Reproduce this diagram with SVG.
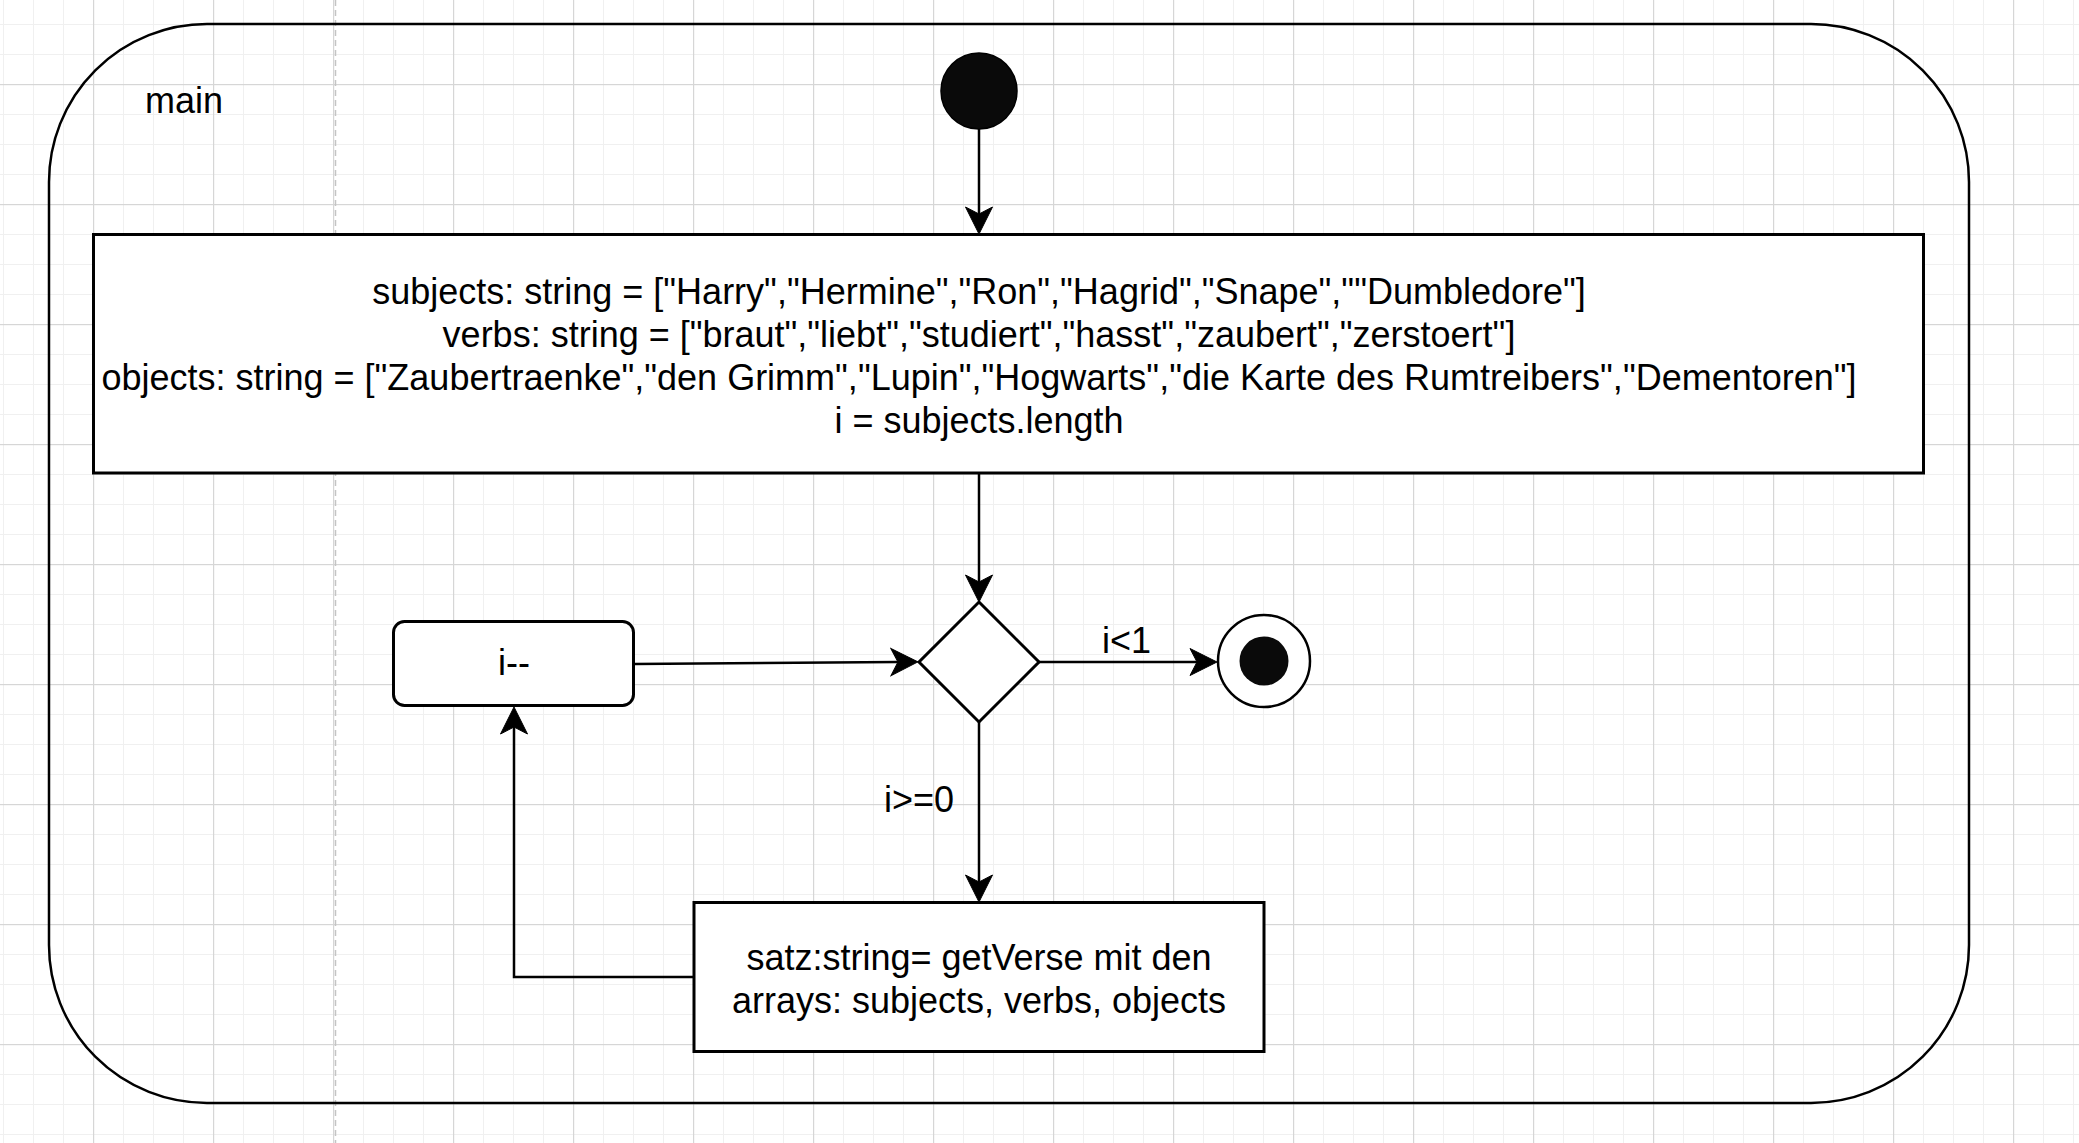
<svg xmlns="http://www.w3.org/2000/svg" width="2079" height="1143" viewBox="0 0 2079 1143">
  <defs>
    <pattern id="grid" patternUnits="userSpaceOnUse" x="93" y="84" width="120" height="120">
      <rect x="30" y="0" width="1" height="120" fill="#f0f0f0"/>
      <rect x="60" y="0" width="1" height="120" fill="#f0f0f0"/>
      <rect x="90" y="0" width="1" height="120" fill="#f0f0f0"/>
      <rect x="0" y="30" width="120" height="1" fill="#f0f0f0"/>
      <rect x="0" y="60" width="120" height="1" fill="#f0f0f0"/>
      <rect x="0" y="90" width="120" height="1" fill="#f0f0f0"/>
      <rect x="0" y="0" width="1.2" height="120" fill="#d6d6d6"/>
      <rect x="0" y="0" width="120" height="1.2" fill="#d6d6d6"/>
    </pattern>
    <marker id="arr" viewBox="-28 -15 30 30" refX="-20" refY="0" markerWidth="30" markerHeight="30" markerUnits="userSpaceOnUse" orient="auto">
      <path d="M0,0 L-27,-13.5 L-20,0 L-27,13.5 Z" fill="#000" stroke="#000" stroke-width="1" stroke-linejoin="miter"/>
    </marker>
    <style>
      .t { font-family: "Liberation Sans", Arial, sans-serif; font-size: 36px; fill: #000; }
      .c { text-anchor: middle; }
      .box { fill: #fff; stroke: #000; stroke-width: 3; }
      .edge { fill: none; stroke: #000; stroke-width: 2.5; marker-end: url(#arr); }
    </style>
  </defs>

  <rect x="0" y="0" width="2079" height="1143" fill="#fff"/>
  <rect x="0" y="0" width="2079" height="1143" fill="url(#grid)"/>
  <line x1="335.5" y1="0" x2="335.5" y2="1143" stroke="#c4c4c4" stroke-width="1.5" stroke-dasharray="6 4"/>

  <g id="main">
    <rect x="49" y="24" width="1920" height="1079" rx="158" ry="158" fill="none" stroke="#000" stroke-width="2.5"/>
    <text class="t" x="145" y="113">main</text>
  </g>

  <g id="start">
    <circle cx="979" cy="91" r="38" fill="#0a0a0a" stroke="#000" stroke-width="1.5"/>
  </g>

  <g id="init">
    <rect class="box" x="93.5" y="234.5" width="1830" height="238.5"/>
    <text class="t c" x="979" y="303.5">subjects: string = ["Harry","Hermine","Ron","Hagrid","Snape",""Dumbledore"]</text>
    <text class="t c" x="979" y="346.5">verbs: string = ["braut","liebt","studiert","hasst","zaubert","zerstoert"]</text>
    <text class="t c" x="979" y="389.5">objects: string = ["Zaubertraenke","den Grimm","Lupin","Hogwarts","die Karte des Rumtreibers","Dementoren"]</text>
    <text class="t c" x="979" y="432.5">i = subjects.length</text>
  </g>

  <g id="decision">
    <polygon class="box" points="979,602 1039,662 979,722 919,662" stroke-width="2.5"/>
  </g>

  <g id="decrement">
    <rect class="box" x="393.5" y="621.5" width="240" height="84" rx="11" ry="11"/>
    <text class="t c" x="514" y="675">i--</text>
  </g>

  <g id="end">
    <circle cx="1264" cy="661" r="46" fill="#fff" stroke="#000" stroke-width="2.5"/>
    <circle cx="1264" cy="661" r="24.5" fill="#0a0a0a"/>
  </g>

  <g id="satz">
    <rect class="box" x="694" y="902.5" width="570" height="149"/>
    <text class="t c" x="979" y="969.5">satz:string= getVerse mit den</text>
    <text class="t c" x="979" y="1012.5">arrays: subjects, verbs, objects</text>
  </g>

  <g id="connectors">
    <path class="edge" d="M979,129 V214" stroke-width="2"/>
    <path class="edge" d="M979,473 V582"/>
    <path class="edge" d="M634,664 L898,662"/>
    <path class="edge" d="M1039,662 H1197"/>
    <path class="edge" d="M979,722 V882"/>
    <path class="edge" d="M694,977 H514 V727"/>
    <text class="t" x="1102" y="653">i&lt;1</text>
    <text class="t" x="884" y="812">i&gt;=0</text>
  </g>
</svg>
